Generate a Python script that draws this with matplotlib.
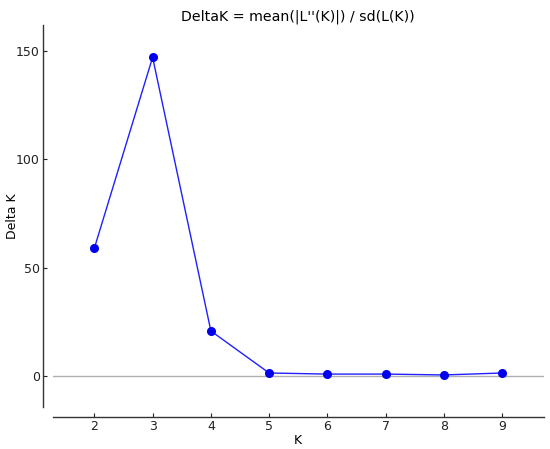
import matplotlib
matplotlib.use("Agg")
import matplotlib.pyplot as plt

K       = [2, 3, 4, 5, 6, 7, 8, 9]
DELTA_K = [59.0, 147.1, 20.8, 1.4, 0.9, 0.9, 0.5, 1.4]

fig = plt.figure(figsize=(5.5, 4.49), dpi=100)
ax = fig.add_axes([0.0958, 0.0935, 0.893, 0.8508])

ax.axhline(0, color="#b0b0b0", linewidth=1, zorder=1)
ax.plot(K, DELTA_K, color="#2020ff", linewidth=1, marker="o",
        markersize=5.5, markerfacecolor="#0000ee", markeredgecolor="#0000ee", zorder=2)

ax.set_xlim(1.285, 9.715)
ax.set_ylim(-14.3, 162)
ax.set_xticks(K)
ax.set_yticks([0, 50, 100, 150])

ax.spines["top"].set_visible(False)
ax.spines["right"].set_visible(False)
ax.spines["left"].set_position(("outward", 7.2))
ax.spines["bottom"].set_position(("outward", 7.4))
for s in ("left", "bottom"):
    ax.spines[s].set_linewidth(1)
    ax.spines[s].set_color("#333333")

ax.tick_params(direction="in", length=3, pad=2, labelsize=9, colors="#222222")
ax.set_xlabel("K", fontsize=9, labelpad=1)
ax.set_ylabel("Delta K", fontsize=9)
ax.yaxis.set_label_coords(-0.0676, 0.5)
ax.set_title("DeltaK = mean(|L''(K)|) / sd(L(K))", fontsize=10.2, pad=3.5)

fig.savefig("out.png", dpi=100)
